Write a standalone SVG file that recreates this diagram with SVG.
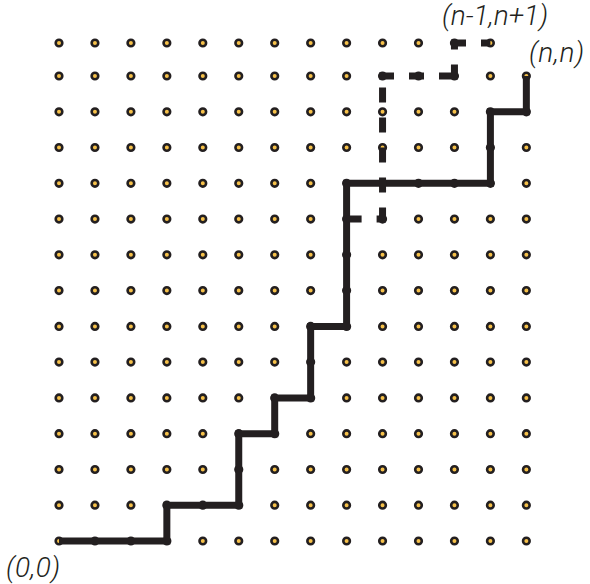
<svg xmlns="http://www.w3.org/2000/svg" xmlns:xlink="http://www.w3.org/1999/xlink" width="590" height="584" viewBox="0 0 590 584">
<style>
.dot{fill:#f6c14a;stroke:#231f20;stroke-width:2.6}
.path{fill:none;stroke:#231f20;stroke-width:7;stroke-linejoin:miter;stroke-linecap:butt}
.dash{fill:none;stroke:#231f20;stroke-width:7;stroke-linecap:butt;stroke-dasharray:15 15}
.lbl{font-family:Roboto,"Liberation Sans",Arial,sans-serif;font-weight:300;font-style:italic;font-size:28px;fill:#231f20}
</style>
<defs>
<g id="row13">
<circle class="dot" cx="59" cy="0" r="3.3"/>
<circle class="dot" cx="94.95" cy="0" r="3.3"/>
<circle class="dot" cx="130.9" cy="0" r="3.3"/>
<circle class="dot" cx="166.85" cy="0" r="3.3"/>
<circle class="dot" cx="202.8" cy="0" r="3.3"/>
<circle class="dot" cx="238.75" cy="0" r="3.3"/>
<circle class="dot" cx="274.7" cy="0" r="3.3"/>
<circle class="dot" cx="310.65" cy="0" r="3.3"/>
<circle class="dot" cx="346.6" cy="0" r="3.3"/>
<circle class="dot" cx="382.55" cy="0" r="3.3"/>
<circle class="dot" cx="418.5" cy="0" r="3.3"/>
<circle class="dot" cx="454.45" cy="0" r="3.3"/>
<circle class="dot" cx="490.4" cy="0" r="3.3"/>
</g>
<g id="row">
<use xlink:href="#row13"/>
<circle class="dot" cx="526.35" cy="0" r="3.3"/>
</g>
</defs>
<rect width="590" height="584" fill="#ffffff"/>
<g id="grid">
<use xlink:href="#row13" y="43"/>
<use xlink:href="#row" y="76"/>
<use xlink:href="#row" y="111.8"/>
<use xlink:href="#row" y="147.5"/>
<use xlink:href="#row" y="183.3"/>
<use xlink:href="#row" y="219.1"/>
<use xlink:href="#row" y="254.8"/>
<use xlink:href="#row" y="290.6"/>
<use xlink:href="#row" y="326.4"/>
<use xlink:href="#row" y="362.1"/>
<use xlink:href="#row" y="397.9"/>
<use xlink:href="#row" y="433.7"/>
<use xlink:href="#row" y="469.5"/>
<use xlink:href="#row" y="505.2"/>
<use xlink:href="#row" y="541"/>
</g>
<g id="connectors">
<path id="lattice-path" class="path" d="M59,541 H166.85 V505.2 H238.75 V433.7 H274.7 V397.9 H310.65 V326.4 H346.6 V183.3 H490.4 V111.8 H526.35 V76"/>
<path id="reflected-path" class="dash" d="M346.6,219.1 H382.55 M382.55,222.6 V76 M379,76 H454.45 M454.45,79.5 V43 M451,43 H490.4"/>
</g>
<g id="label-origin"><text class="lbl" x="6" y="577" textLength="54" lengthAdjust="spacing">(0,0)</text></g>
<g id="label-nn"><text class="lbl" x="529" y="62" textLength="55" lengthAdjust="spacing">(n,n)</text></g>
<g id="label-n1"><text class="lbl" x="442" y="25" textLength="106" lengthAdjust="spacing">(n-1,n+1)</text></g>
</svg>
